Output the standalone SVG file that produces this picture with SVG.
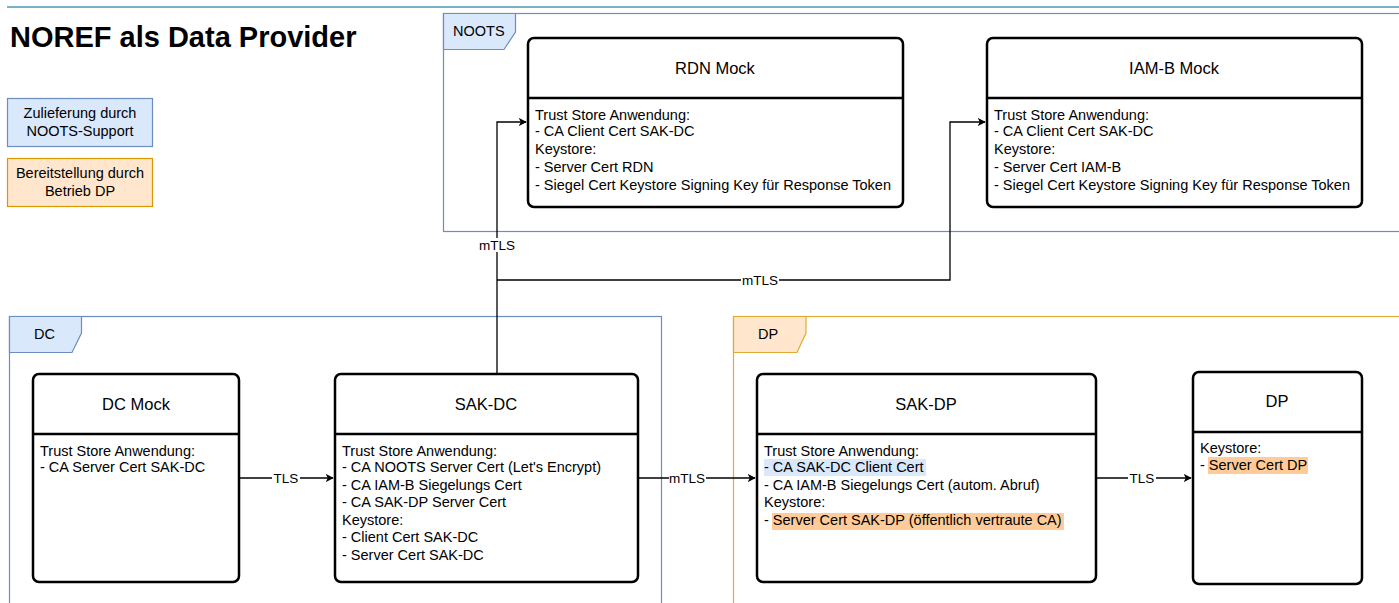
<svg xmlns="http://www.w3.org/2000/svg" width="1399" height="603" viewBox="0 0 1399 603">
  <style>
    text { font-family: "Liberation Sans", Arial, sans-serif; fill: #000; }
    .title { font-size: 29px; font-weight: bold; }
    .t14 { font-size: 14.5px; }
    .head { font-size: 16.5px; text-anchor: middle; }
    .mid { text-anchor: middle; }
    .box { fill: #fff; stroke: #000; stroke-width: 2.5; }
    .sep { stroke: #000; stroke-width: 2.5; }
    .frameBlue { fill: none; stroke: #6c8ebf; stroke-width: 1.2; }
    .frameOrange { fill: none; stroke: #e0ac30; stroke-width: 1.2; }
    .tabBlue { fill: #dae8fc; stroke: #6c8ebf; stroke-width: 1.2; }
    .tabOrange { fill: #ffe6cc; stroke: #e0ac30; stroke-width: 1.2; }
    .conn { fill: none; stroke: #000; stroke-width: 1.3; }
    .lbl { font-size: 13.5px; text-anchor: middle; }
    .hlBlue { fill: #dae8fc; }
    .hlOrange { fill: #ffcc99; }
  </style>
  <defs>
    <marker id="arrow" viewBox="0 0 10 10" refX="9" refY="5" markerWidth="8" markerHeight="8" markerUnits="userSpaceOnUse" orient="auto">
      <path d="M0,0 L10,5 L0,10 L2.5,5 Z" fill="#000"/>
    </marker>
  </defs>

  <rect width="1399" height="603" fill="#fff"/>

  <!-- header rule and title -->
  <line x1="7" y1="7" x2="1399" y2="7" stroke="#78b0c4" stroke-width="2"/>
  <text class="title" x="10" y="47">NOREF als Data Provider</text>

  <!-- legend -->
  <g id="legend-noots">
    <rect x="7.5" y="98.5" width="145" height="48" fill="#dae8fc" stroke="#6c8ebf" stroke-width="1.2"/>
    <text class="t14 mid" x="80" y="118">Zulieferung durch</text>
    <text class="t14 mid" x="80" y="136">NOOTS-Support</text>
  </g>
  <g id="legend-dp">
    <rect x="7.5" y="158.5" width="145" height="48" fill="#ffe6cc" stroke="#d79b00" stroke-width="1.2"/>
    <text class="t14 mid" x="80" y="178">Bereitstellung durch</text>
    <text class="t14 mid" x="80" y="196">Betrieb DP</text>
  </g>

  <!-- zones -->
  <g id="zone-noots">
    <rect class="frameBlue" x="443.5" y="13.5" width="960" height="218"/>
    <path class="tabBlue" d="M443.5,13.5 H515.5 V32 L504,49.5 H443.5 Z"/>
    <text class="t14" x="453" y="36">NOOTS</text>
  </g>
  <g id="zone-dc">
    <rect class="frameBlue" x="9.5" y="316.5" width="652" height="300"/>
    <path class="tabBlue" d="M9.5,316.5 H81.5 V333 L72,352.5 H9.5 Z"/>
    <text class="t14" x="34" y="339">DC</text>
  </g>
  <g id="zone-dp">
    <rect class="frameOrange" x="733.5" y="316.5" width="680" height="300"/>
    <path class="tabOrange" d="M733.5,316.5 H806 V333 L797,352.5 H733.5 Z"/>
    <text class="t14" x="758" y="339">DP</text>
  </g>

  <!-- connectors -->
  <g id="connectors">
    <path class="conn" d="M239,478 H333" marker-end="url(#arrow)"/>
    <path class="conn" d="M638,478 H755" marker-end="url(#arrow)"/>
    <path class="conn" d="M1096,478 H1191" marker-end="url(#arrow)"/>
    <path class="conn" d="M497,374 V122 H526" marker-end="url(#arrow)"/>
    <path class="conn" d="M497,280 H950 V122 H985" marker-end="url(#arrow)"/>
    <rect x="272" y="471" width="28" height="14" fill="#fff"/>
    <text class="lbl" x="286" y="483">TLS</text>
    <rect x="669" y="471" width="37" height="14" fill="#fff"/>
    <text class="lbl" x="687" y="483">mTLS</text>
    <rect x="1128" y="471" width="28" height="14" fill="#fff"/>
    <text class="lbl" x="1142" y="483">TLS</text>
    <rect x="479" y="238" width="37" height="14" fill="#fff"/>
    <text class="lbl" x="497" y="250">mTLS</text>
    <rect x="741" y="273" width="38" height="14" fill="#fff"/>
    <text class="lbl" x="760" y="285">mTLS</text>
  </g>

  <!-- RDN Mock -->
  <g id="rdn-mock">
    <rect class="box" x="528" y="38" width="375" height="169" rx="6"/>
    <line class="sep" x1="528" y1="98" x2="903" y2="98"/>
    <text class="head" x="715" y="74">RDN Mock</text>
    <text class="t14" x="535" y="120">Trust Store Anwendung:</text>
    <text class="t14" x="535" y="136">- CA Client Cert SAK-DC</text>
    <text class="t14" x="535" y="154">Keystore:</text>
    <text class="t14" x="535" y="172">- Server Cert RDN</text>
    <text class="t14" x="535" y="190">- Siegel Cert Keystore Signing Key für Response Token</text>
  </g>

  <!-- IAM-B Mock -->
  <g id="iamb-mock">
    <rect class="box" x="987" y="38" width="375" height="169" rx="6"/>
    <line class="sep" x1="987" y1="98" x2="1362" y2="98"/>
    <text class="head" x="1174" y="74">IAM-B Mock</text>
    <text class="t14" x="994" y="120">Trust Store Anwendung:</text>
    <text class="t14" x="994" y="136">- CA Client Cert SAK-DC</text>
    <text class="t14" x="994" y="154">Keystore:</text>
    <text class="t14" x="994" y="172">- Server Cert IAM-B</text>
    <text class="t14" x="994" y="190">- Siegel Cert Keystore Signing Key für Response Token</text>
  </g>

  <!-- DC Mock -->
  <g id="dc-mock">
    <rect class="box" x="33" y="374" width="206" height="208" rx="6"/>
    <line class="sep" x1="33" y1="434" x2="239" y2="434"/>
    <text class="head" x="136" y="410">DC Mock</text>
    <text class="t14" x="40" y="456">Trust Store Anwendung:</text>
    <text class="t14" x="40" y="472">- CA Server Cert SAK-DC</text>
  </g>

  <!-- SAK-DC -->
  <g id="sak-dc">
    <rect class="box" x="335" y="374" width="303" height="208" rx="6"/>
    <line class="sep" x1="335" y1="434" x2="638" y2="434"/>
    <text class="head" x="486" y="410">SAK-DC</text>
    <text class="t14" x="342" y="456">Trust Store Anwendung:</text>
    <text class="t14" x="342" y="472">- CA NOOTS Server Cert (Let's Encrypt)</text>
    <text class="t14" x="342" y="490">- CA IAM-B Siegelungs Cert</text>
    <text class="t14" x="342" y="507">- CA SAK-DP Server Cert</text>
    <text class="t14" x="342" y="525">Keystore:</text>
    <text class="t14" x="342" y="542">- Client Cert SAK-DC</text>
    <text class="t14" x="342" y="560">- Server Cert SAK-DC</text>
  </g>

  <!-- SAK-DP -->
  <g id="sak-dp">
    <rect class="box" x="757" y="374" width="339" height="208" rx="6"/>
    <line class="sep" x1="757" y1="434" x2="1096" y2="434"/>
    <text class="head" x="926" y="410">SAK-DP</text>
    <rect class="hlBlue" x="764" y="459" width="162" height="17"/>
    <rect class="hlOrange" x="772" y="513" width="292" height="17"/>
    <text class="t14" x="764" y="456">Trust Store Anwendung:</text>
    <text class="t14" x="764" y="472">- CA SAK-DC Client Cert</text>
    <text class="t14" x="764" y="490">- CA IAM-B Siegelungs Cert (autom. Abruf)</text>
    <text class="t14" x="764" y="507">Keystore:</text>
    <text class="t14" x="764" y="525">- Server Cert SAK-DP (öffentlich vertraute CA)</text>
  </g>

  <!-- DP -->
  <g id="dp">
    <rect class="box" x="1193" y="372" width="169" height="212" rx="6"/>
    <line class="sep" x1="1193" y1="432" x2="1362" y2="432"/>
    <text class="head" x="1277" y="407">DP</text>
    <rect class="hlOrange" x="1208" y="457" width="100" height="17"/>
    <text class="t14" x="1200" y="453">Keystore:</text>
    <text class="t14" x="1200" y="470">- Server Cert DP</text>
  </g>
</svg>
